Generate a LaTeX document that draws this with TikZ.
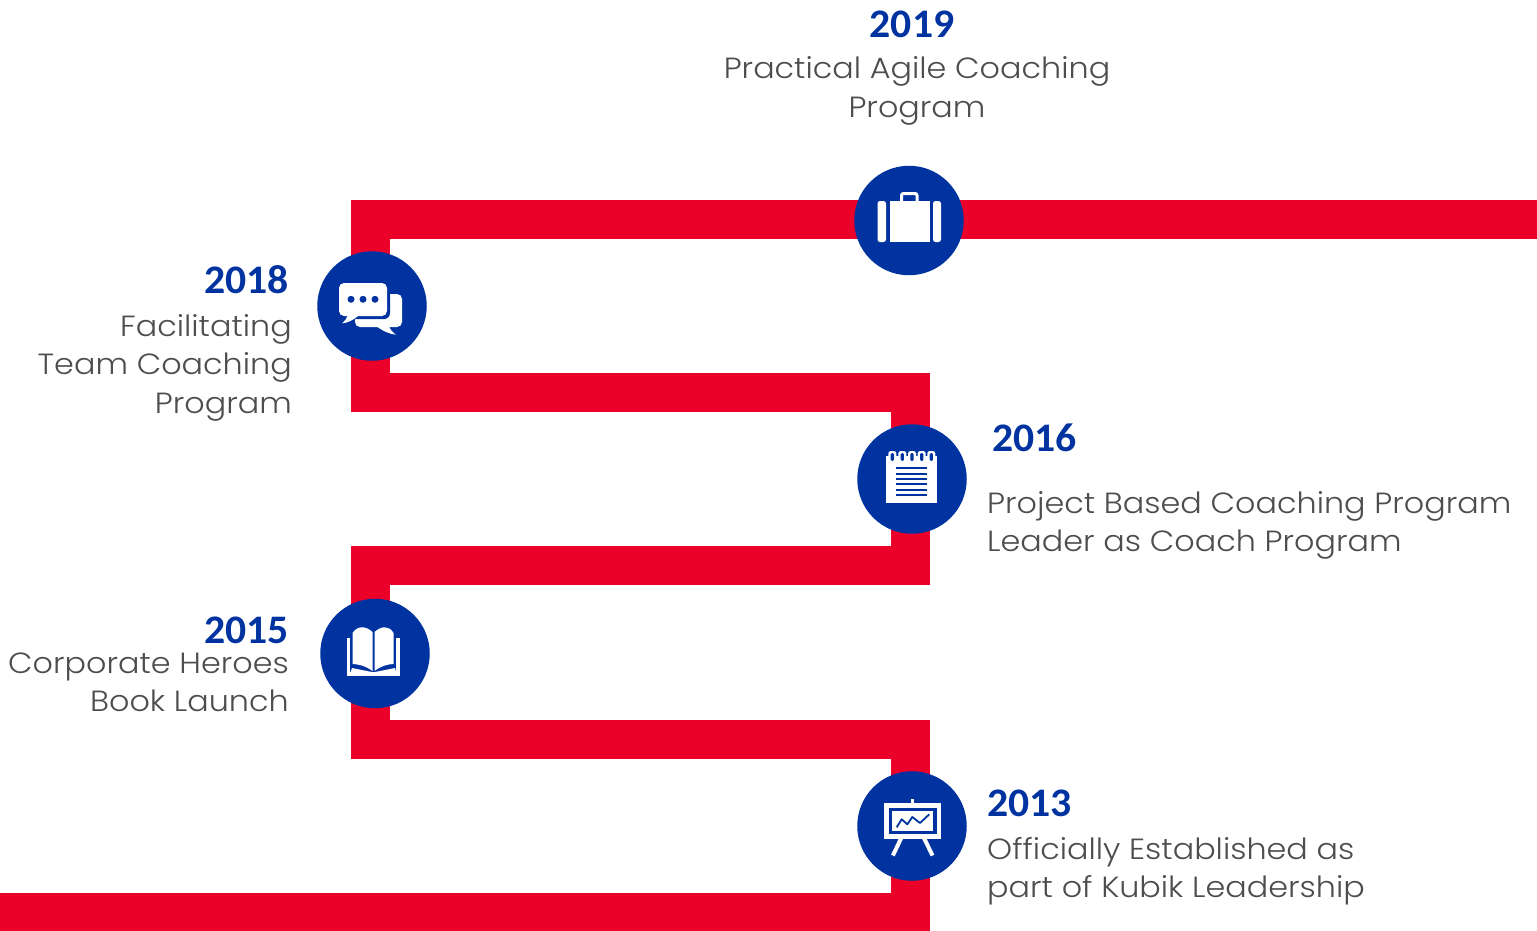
\documentclass[tikz,border=0pt]{standalone}
\usepackage{fontspec}
\setmainfont{Poppins Light}[FakeStretch=1.09]
\newfontfamily\yearfont{Carlito}[FakeStretch=1.03]
\definecolor{ribbon}{HTML}{EB0029}
\definecolor{navy}{HTML}{0033A0}
\definecolor{bodytext}{HTML}{4D4D4D}
\tikzset{
  ribbonline/.style={draw=ribbon,line width=39pt,line join=miter},
  badge/.style={circle,fill=navy,minimum size=109.5pt,inner sep=0pt,outer sep=0pt},
  yeartext/.style={inner sep=0pt,text=navy,font=\yearfont\fontsize{40.5}{40}\selectfont\bfseries},
  desc/.style={inner sep=0pt,text=bodytext,font=\fontsize{29.2}{38.5}\selectfont},
  icw/.style={fill=white,draw=none},
  icb/.style={fill=navy,draw=none},
}
\begin{document}
\begin{tikzpicture}[x=1pt,y=-1pt]
\useasboundingbox (0,0) rectangle (1537,930);
\begin{scope}
\clip (0,0) rectangle (1537,930);
\coordinate (rs) at (1537,219.5);
\coordinate (r1) at (370.5,219.5);
\coordinate (r2) at (370.5,392.5);
\coordinate (r3) at (910.5,392.5);
\coordinate (r4) at (910.5,565.5);
\coordinate (r5) at (370.5,565.5);
\coordinate (r6) at (370.5,739.5);
\coordinate (r7) at (910.5,739.5);
\coordinate (r8) at (910.5,912);
\coordinate (re) at (0,912);
\draw[ribbonline] (rs) -- (r1) -- (r2) -- (r3) -- (r4) -- (r5) -- (r6) -- (r7) -- (r8) -- (re);
\end{scope}
\node[badge] (b19) at (909,220.5) {};
\node[badge] (b18) at (372,306) {};
\node[badge] (b16) at (912,479) {};
\node[badge] (b15) at (375,653.5) {};
\node[badge] (b13) at (912,826) {};
% briefcase
\fill[icw,rounded corners=2.5pt] (877.5,201) rectangle (886,242);
\fill[icw] (889.5,201) rectangle (929.5,242);
\fill[icw,rounded corners=2.5pt] (933,201) rectangle (941,242);
\draw[white,line width=3pt,rounded corners=2pt] (901.5,201) -- (901.5,193.5) -- (917,193.5) -- (917,201);
% chat
\fill[icw,rounded corners=5pt] (355,294) rectangle (402,327);
\fill[icw] (376,326) .. controls (383,331) and (389,334) .. (396,334.7) .. controls (392,332) and (390,329) .. (389,326) -- cycle;
\fill[icb,rounded corners=6pt] (336,280) rectangle (390,319);
\fill[icw,rounded corners=5pt] (339,283) rectangle (387,316);
\fill[icw] (342,323.3) .. controls (348,323) and (353,320) .. (358,316) -- (348,315) .. controls (347,318) and (345,321) .. (342,323.3) -- cycle;
\foreach \px in {351,363,375} \fill[navy] (\px,299.3) circle (3.5pt);
% notepad
\fill[icw] (886,456) rectangle (937,502.5);
\foreach \px in {892.3,902.3,912,921.7,931.3} {
  \fill[icw,rounded corners=2.5pt] (\px-4,451) rectangle (\px+4,462);
  \fill[icb,rounded corners=1.3pt] (\px-1.6,453) rectangle (\px+1.6,461);
}
\foreach \py in {468.3,473.7,479,484.3,489.7,495} \fill[navy] (896,\py-1) rectangle (927,\py+1);
% book
\fill[icw] (346.5,638) rectangle (399.5,676);
\fill[icb] (350,634) rectangle (396,672);
\fill[icw] (352.5,633) .. controls (358,625) and (366,626) .. (372.5,632) -- (372.5,671) .. controls (366,666) and (358,664) .. (352.5,664) -- cycle;
\fill[icw] (374.5,632) .. controls (381,626) and (389,625) .. (393.5,633) -- (393.5,664) .. controls (388,664) and (381,666) .. (374.5,671) -- cycle;
\fill[icw] (350.5,672) -- (372,672) -- (352,668) -- cycle;
\fill[icw] (375,672) -- (396,672) -- (395,668) -- cycle;
% easel
\fill[icw] (911,799.3) rectangle (914,805);
\fill[icw] (884.3,803.3) rectangle (941,838.7);
\fill[icb] (889.3,807.7) rectangle (936.7,834);
\fill[icw] (892.3,811) rectangle (933.3,831);
\draw[navy,line width=1.8pt,line join=round] (896.7,827.3) -- (901.7,819.3) -- (907.3,824.3) -- (912.3,817) -- (920,823) -- (929.3,814.3);
\draw[white,line width=4pt] (901.7,837) -- (892.9,855.5);
\draw[white,line width=4pt] (923.5,837) -- (932.5,855.5);
% texts
\node[yeartext,anchor=base] (y19) at (912,37) {2019};
\node[desc,anchor=base] (d19a) at (917,78) {Practical Agile Coaching};
\node[desc,anchor=base] (d19b) at (917,117) {Program};
\node[yeartext,anchor=base east] (y18) at (289,293) {2018};
\node[desc,anchor=base east] (d18a) at (292,336) {Facilitating};
\node[desc,anchor=base east] (d18b) at (292,374) {Team Coaching};
\node[desc,anchor=base east] (d18c) at (292,413) {Program};
\node[yeartext,anchor=base west] (y16) at (992,451) {2016};
\node[desc,anchor=base west] (d16a) at (987,513) {Project Based Coaching Program};
\node[desc,anchor=base west] (d16b) at (987,551) {Leader as Coach Program};
\node[yeartext,anchor=base east] (y15) at (289,643) {2015};
\node[desc,anchor=base east] (d15a) at (289,673) {Corporate Heroes};
\node[desc,anchor=base east] (d15b) at (289,711) {Book Launch};
\node[yeartext,anchor=base west] (y13) at (987,816) {2013};
\node[desc,anchor=base west] (d13a) at (987,859) {Officially Established as};
\node[desc,anchor=base west] (d13b) at (987,897) {part of Kubik Leadership};
\end{tikzpicture}
\end{document}
